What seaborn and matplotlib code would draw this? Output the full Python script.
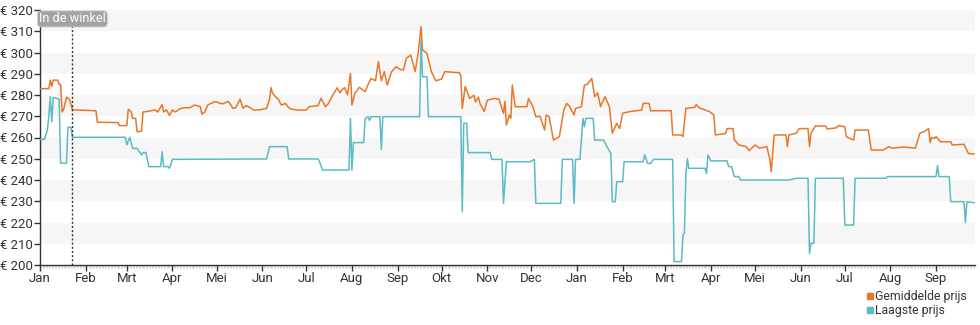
import numpy as np
import pandas as pd
import matplotlib
matplotlib.use("Agg")
import matplotlib.pyplot as plt
import matplotlib.dates as mdates
from matplotlib.ticker import FuncFormatter, MultipleLocator
from matplotlib.lines import Line2D
import seaborn as sns

# ---------------- data ----------------
start_date = "2023-01-01"
month_labels = ["Jan", "Feb", "Mrt", "Apr", "Mei", "Jun", "Jul", "Aug", "Sep", "Okt", "Nov", "Dec"]
series_names = ["Gemiddelde prijs", "Laagste prijs"]
marker_day = 22
marker_label = "In de winkel"

# days since start_date, value in euro
avg_days = [0, 6, 7, 8, 9, 12, 13, 14, 15, 16, 18, 20, 22, 38, 39, 53, 54, 59, 60, 62, 63, 65, 66, 69, 70,
            75, 78, 80, 83, 84, 86, 88, 90, 92, 95, 98, 102, 105, 109, 110, 112, 114, 119, 124, 128, 130,
            131, 133, 136, 138, 140, 143, 145, 149, 154, 156, 157, 158, 160, 162, 164, 167, 169, 171, 174,
            177, 181, 183, 189, 191, 194, 196, 199, 202, 204, 205, 207, 209, 211, 212, 214, 217, 221, 223,
            225, 228, 230, 232, 234, 236, 239, 242, 245, 247, 249, 252, 255, 257, 259, 260, 263, 266, 269,
            273, 275, 285, 286, 287, 289, 292, 295, 296, 298, 299, 302, 304, 309, 312, 315, 316, 317, 319,
            320, 321, 323, 331, 332, 335, 337, 340, 341, 343, 344, 346, 349, 353, 356, 358, 360, 363, 364,
            368, 370, 372, 375, 377, 379, 381, 384, 386, 387, 389, 392, 394, 396, 401, 409, 410, 414, 415,
            429, 430, 436, 437, 439, 445, 446, 448, 452, 455, 458, 459, 466, 467, 471, 472, 475, 480, 482,
            486, 489, 494, 496, 497, 499, 507, 508, 509, 514, 516, 522, 523, 524, 527, 534, 535, 541, 543,
            547, 548, 553, 554, 563, 565, 573, 575, 577, 579, 587, 595, 598, 601, 604, 605, 606, 608, 609,
            612, 619, 620, 628, 631, 635]
avg_vals = [283, 283, 287, 284, 287, 287, 285, 285, 272, 273, 279, 278, 273, 272.6, 267.2, 267, 265.6, 265.6,
            273.3, 272, 269, 269, 262.7, 263, 272, 272.5, 273, 272, 275.5, 272, 273, 270.4, 273, 272, 273.5,
            274, 274, 275.3, 274.5, 271, 272, 275.3, 276.9, 275.8, 277, 275, 273.7, 274, 278, 273.7, 275,
            274, 272.9, 273, 273.7, 278, 283.5, 281, 279.2, 278, 275.3, 276, 274, 273.3, 273, 272.9, 272.9,
            274.5, 275, 278.5, 274.5, 276, 280, 283.4, 281, 282.3, 283.5, 280, 290.2, 275.3, 280.8, 283.6,
            281.6, 285, 287.8, 286.7, 295.7, 286.7, 291, 284.7, 291, 293.3, 292, 291.8, 297.3, 298.8, 291,
            299.6, 312.2, 301.2, 299.6, 291, 286.7, 287.5, 291, 290.5, 289, 273.7, 284, 278.4, 279.9, 276.7,
            279, 276, 272.2, 277.6, 278.4, 278, 271.4, 277, 265.9, 270.6, 269, 284.7, 274.5, 274.5, 278.4,
            274.5, 269.8, 270, 267.5, 263.5, 270.6, 269.8, 258.8, 260.4, 272.9, 276.1, 274.5, 270.6, 273.7,
            274.5, 284.7, 285, 287.8, 279.2, 281, 274.5, 279.2, 276, 274.5, 262, 266.7, 264.2, 271.4, 272.2,
            272.9, 276.1, 276, 272.6, 272.6, 261.2, 261.2, 260.4, 273.7, 274.2, 275.5, 274, 273, 272.2,
            270.6, 261.2, 261.9, 264.2, 264.2, 258.8, 256.5, 255.7, 253.8, 256.5, 255, 255.7, 250, 243.9,
            261.2, 261.2, 255.7, 261.2, 262, 264.2, 264.2, 255.7, 262, 265.4, 265.4, 264, 264.5, 265.6, 265,
            260.4, 258.8, 263.5, 263.5, 254.1, 254.1, 254.8, 255.7, 255, 255.5, 255, 262, 262.8, 264.2,
            257.6, 260, 259.6, 260.5, 258, 258, 256.5, 256.8, 252.5, 252.2]

low_days = [0, 3, 5, 6, 7, 8, 9, 11, 13, 14, 18, 19, 21, 22, 58, 59, 61, 63, 66, 67, 69, 70, 72, 74, 82, 83,
            84, 87, 88, 90, 154, 156, 168, 169, 189, 190, 192, 210, 211, 212, 213, 220, 221, 223, 224, 225,
            231, 232, 233, 258, 259, 260, 263, 264, 286, 287, 288, 290, 291, 306, 307, 314, 315, 317, 333,
            336, 337, 354, 355, 362, 363, 364, 367, 369, 370, 371, 376, 377, 383, 386, 388, 389, 391, 392,
            396, 397, 410, 411, 413, 415, 417, 430, 431, 436, 437, 438, 439, 440, 441, 452, 453, 454, 456,
            467, 468, 470, 472, 475, 476, 509, 514, 522, 523, 524, 526, 527, 546, 547, 553, 554, 575, 576,
            609, 610, 611, 618, 619, 628, 629, 630, 635]
low_vals = [259.1, 259.1, 263.5, 270, 279.2, 267.4, 278.8, 278.5, 278, 248, 247.8, 264.8, 264.8, 260.1, 260.1,
            256.5, 260.1, 254.9, 254.9, 253.8, 251.8, 252.9, 252.9, 246.3, 246.3, 253.3, 246.3, 246.3,
            245.5, 249.7, 249.9, 255.7, 255.7, 249.9, 249.9, 248.6, 244.7, 244.7, 269, 244.7, 257.6, 257.6,
            269, 269.8, 268, 269.8, 269.8, 254.4, 269.8, 269.8, 306, 288.6, 288.6, 269.8, 269.8, 225.1,
            266.7, 266.7, 252.9, 252.9, 249.7, 249.7, 229, 248.6, 248.6, 249.7, 229, 229, 249.7, 249.7, 229,
            249.7, 249.7, 269, 265.1, 269, 269, 258.8, 258.8, 254.9, 252.5, 229.8, 229.8, 239.2, 239.2,
            248.6, 248.6, 251.8, 247.8, 247.8, 249.7, 249.7, 201.6, 201.6, 214, 215, 243, 250, 245.5, 245.5,
            243.1, 251.8, 249, 249, 246.3, 246.3, 241.6, 241.6, 240, 240, 240.8, 240.8, 205.5, 210.2, 210.2,
            240.8, 240.8, 218.8, 218.8, 240.8, 240.8, 241.6, 241.6, 246.7, 241.6, 241.6, 229.8, 229.8, 219.9,
            229.8, 229.3]

y_ticks = [200, 210, 220, 230, 240, 250, 260, 270, 280, 290, 300, 310, 320]

# ---------------- build frame ----------------
t0 = pd.Timestamp(start_date)
df = pd.concat([
    pd.DataFrame({"date": t0 + pd.to_timedelta(avg_days, unit="D"), "prijs": avg_vals, "serie": series_names[0]}),
    pd.DataFrame({"date": t0 + pd.to_timedelta(low_days, unit="D"), "prijs": low_vals, "serie": series_names[1]}),
], ignore_index=True)

colors = {series_names[0]: "#e8772b", series_names[1]: "#5cbac5"}

sns.set_theme(style="white")
plt.rcParams["font.family"] = ["Roboto", "DejaVu Sans"]

fig = plt.figure(figsize=(9.8, 3.25), dpi=100)
ax = fig.add_axes([40 / 980, 60 / 325, 935 / 980, 255 / 325])

# alternating horizontal bands
for lo in y_ticks[1:-1:2]:
    ax.axhspan(lo, lo + 10, color="#f6f6f6", zorder=0, lw=0)

sns.lineplot(data=df, x="date", y="prijs", hue="serie", palette=colors, linewidth=1.1,
             ax=ax, legend=False, estimator=None, sort=False, zorder=3)

x_end = t0 + pd.Timedelta(days=max(avg_days[-1], low_days[-1]) + 0.5)
ax.set_xlim(t0, x_end)
ax.set_ylim(y_ticks[0], y_ticks[-1])
ax.set_xlabel("")
ax.set_ylabel("")

ax.set_yticks(y_ticks)
ax.yaxis.set_major_formatter(FuncFormatter(lambda v, p: f"€ {int(v)}"))
ax.xaxis.set_major_locator(mdates.MonthLocator())
ax.xaxis.set_minor_locator(mdates.DayLocator())
ax.xaxis.set_major_formatter(FuncFormatter(lambda v, p: month_labels[mdates.num2date(v).month - 1]))

for s in ["top", "right"]:
    ax.spines[s].set_visible(False)
for s in ["left", "bottom"]:
    ax.spines[s].set_color("#333333")
    ax.spines[s].set_linewidth(1.0)

ax.tick_params(axis="y", which="major", left=True, length=4, width=1, color="#333333",
               labelsize=9.5, labelcolor="#333333", pad=1)
ax.tick_params(axis="x", which="major", bottom=True, length=4, width=1, color="#333333",
               labelsize=9.5, labelcolor="#333333", pad=1)
ax.tick_params(axis="x", which="minor", bottom=True, length=2, width=0.5, color="#c4c4c4")

# in-store marker
md = t0 + pd.Timedelta(days=marker_day)
ax.axvline(md, color="#333333", lw=1, ls=(0, (1.5, 1.5)), zorder=4)
ax.text(md, 315.8, marker_label, ha="center", va="center", color="white", fontsize=9.2, zorder=5,
        bbox=dict(boxstyle="round,pad=0.12,rounding_size=0.3", fc="#a3a3a3", ec="#cccccc", lw=0.6))

handles = [Line2D([], [], marker="s", ls="", markersize=4.5, color=colors[n]) for n in series_names]
fig.legend(handles, series_names, loc="lower right", bbox_to_anchor=(0.995, 0.0), frameon=False,
           fontsize=8.8, handletextpad=0.15, labelspacing=0.05, borderaxespad=0.25, handlelength=0.6,
           labelcolor="#333333")

fig.savefig("out.png", dpi=100)
